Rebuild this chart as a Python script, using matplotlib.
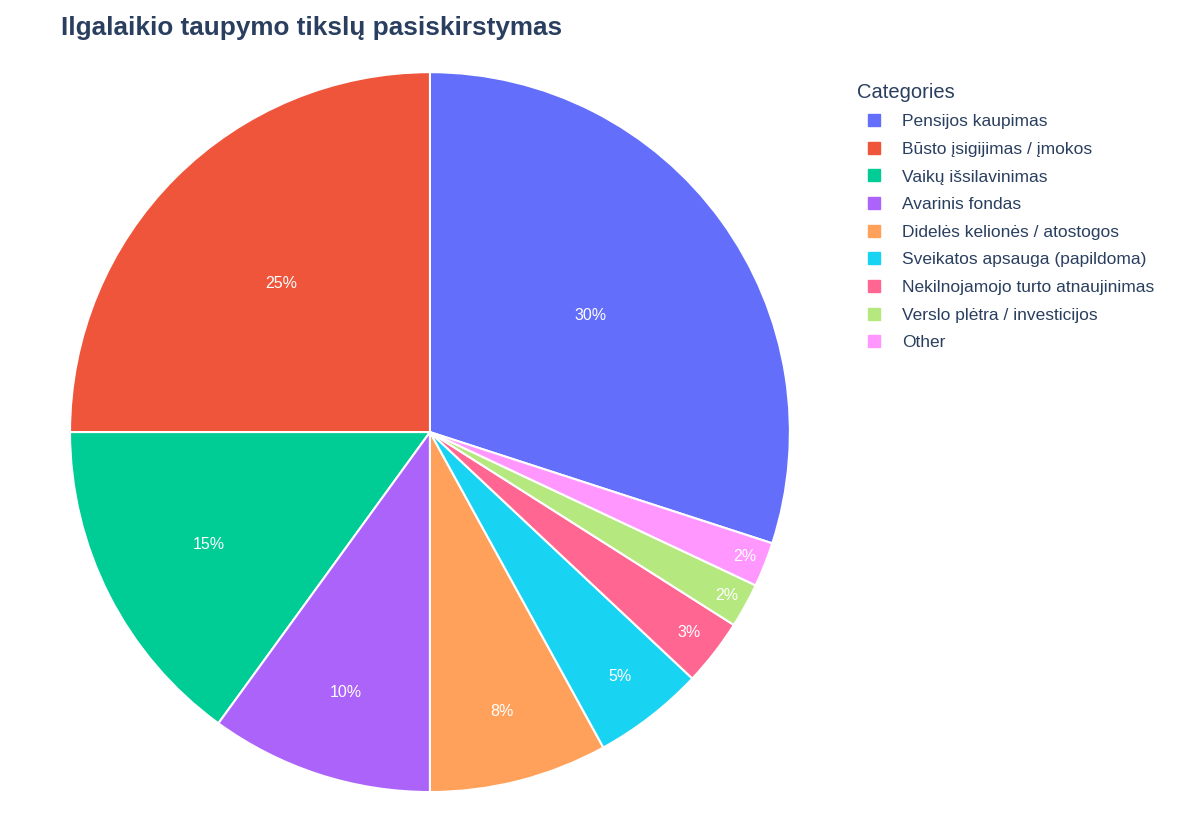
import numpy as np
import matplotlib.pyplot as plt
from matplotlib.lines import Line2D

categories = ["Pensijos kaupimas", "Būsto įsigijimas / įmokos", "Vaikų išsilavinimas",
              "Avarinis fondas", "Didelės kelionės / atostogos", "Sveikatos apsauga (papildoma)",
              "Nekilnojamojo turto atnaujinimas", "Verslo plėtra / investicijos", "Other"]
values = [30, 25, 15, 10, 8, 5, 3, 2, 2]
colors = ["#636EFA", "#EF553B", "#00CC96", "#AB63FA", "#FFA15A",
          "#19D3F3", "#FF6692", "#B6E880", "#FF97FF"]
label_r = [0.55, 0.585, 0.69, 0.76, 0.8, 0.86, 0.91, 0.94, 0.94]

plt.rcParams["font.family"] = "Liberation Sans"
fig = plt.figure(figsize=(12, 8.4), dpi=100)
ax = fig.add_axes([0.0583, 0.0571, 0.6, 0.857])
start = 90 - 360 * values[0] / sum(values)
wedges, _ = ax.pie(values, colors=colors, startangle=start, counterclock=True,
                   wedgeprops=dict(edgecolor="white", linewidth=1.5))
ax.set_xlim(-1, 1)
ax.set_ylim(-1, 1)
ax.set_aspect("equal")
total = sum(values)
for w, v, r in zip(wedges, values, label_r):
    ang = np.deg2rad((w.theta1 + w.theta2) / 2)
    ax.text(r * np.cos(ang), r * np.sin(ang), f"{v / total * 100:.0f}%",
            ha="center", va="center", color="white", fontsize=11.5)

fig.text(0.051, 0.967, "Ilgalaikio taupymo tikslų pasiskirstymas",
         fontsize=18.8, fontweight="bold", color="#2a3f5f", va="center")

handles = [Line2D([], [], marker="s", linestyle="", markersize=9, color=c) for c in colors]
leg = fig.legend(handles, categories, loc="upper left", bbox_to_anchor=(0.708, 0.91),
                 frameon=False, title="Categories", fontsize=12.5, title_fontsize=14.5,
                 handletextpad=0.6, labelspacing=0.72, borderaxespad=0)
leg._legend_box.align = "left"
for t in leg.get_texts():
    t.set_color("#2a3f5f")
leg.get_title().set_color("#2a3f5f")

fig.savefig("out.png", dpi=100)
